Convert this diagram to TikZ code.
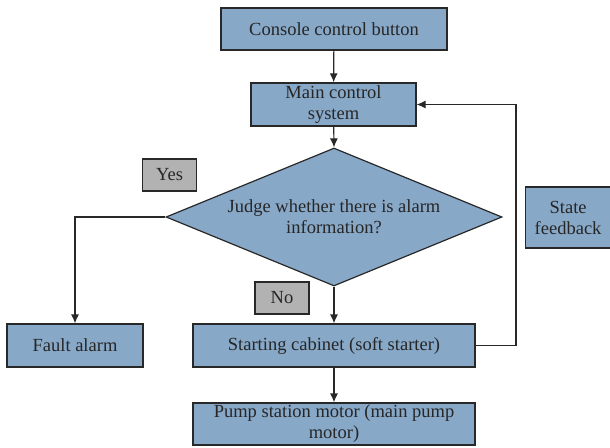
\documentclass[tikz,border=0pt]{standalone}
\usepackage{fontspec}
\setmainfont{Liberation Serif}
\usetikzlibrary{shapes.geometric,arrows.meta}
\definecolor{boxblue}{RGB}{136,168,200}
\definecolor{boxgray}{RGB}{178,178,178}
\definecolor{edge}{RGB}{40,40,40}
\tikzset{
  blk/.style={draw=edge, line width=1.2pt, fill=boxblue, inner sep=0pt, align=center,
    text=black!85, font=\fontsize{18.5}{21}\selectfont},
  tag/.style={draw=edge, line width=1.2pt, fill=boxgray, inner sep=0pt,
    minimum width=54pt, minimum height=32pt, text=black!85, font=\fontsize{18.5}{21}\selectfont},
  link/.style={draw=edge, line width=1.2pt, -{Latex[length=9pt,width=8pt]}},
}
\begin{document}
\begin{tikzpicture}[x=1pt,y=-1pt]
\useasboundingbox (0,0) rectangle (610,447);
% process blocks
\node[blk, minimum width=226pt, minimum height=42pt] (console) at (334,29) {Console control button};
\node[blk, minimum width=165pt, minimum height=43pt] (main) at (333.5,104.5) {Main control\\system};
\node[blk, diamond, aspect=2.43, minimum width=336pt, minimum height=138pt] (judge) at (334,217) {Judge whether there is alarm\\information?};
\node[blk, minimum width=136pt, minimum height=43pt] (fault) at (75,345.5) {Fault alarm};
\node[blk, minimum width=282pt, minimum height=43pt] (start) at (334,345.5) {Starting cabinet (soft starter)};
\node[blk, minimum width=282pt, minimum height=42pt] (pump) at (334,424) {Pump station motor (main pump\\motor)};
\node[blk, minimum width=86pt, minimum height=61pt, anchor=west] (state) at (524.5,217.5) {State\\feedback};
% branch labels
\node[tag] (yes) at (169.5,175) {Yes};
\node[tag] (no) at (282,298) {No};
% connectors
\coordinate (fbtop) at (516,104.5);
\coordinate (fbbot) at (516,345.5);
\coordinate (yescorner) at (75,217);
\draw[link] (console) -- (main);
\draw[link] (main) -- (judge.north);
\draw[link] (judge.south) -- (start);
\draw[link] (judge.west) -- (yescorner) -- (fault);
\draw[link] (start) -- (pump);
\draw[link] (start.east) -- (fbbot) -- (fbtop) -- (main.east);
\end{tikzpicture}
\end{document}
